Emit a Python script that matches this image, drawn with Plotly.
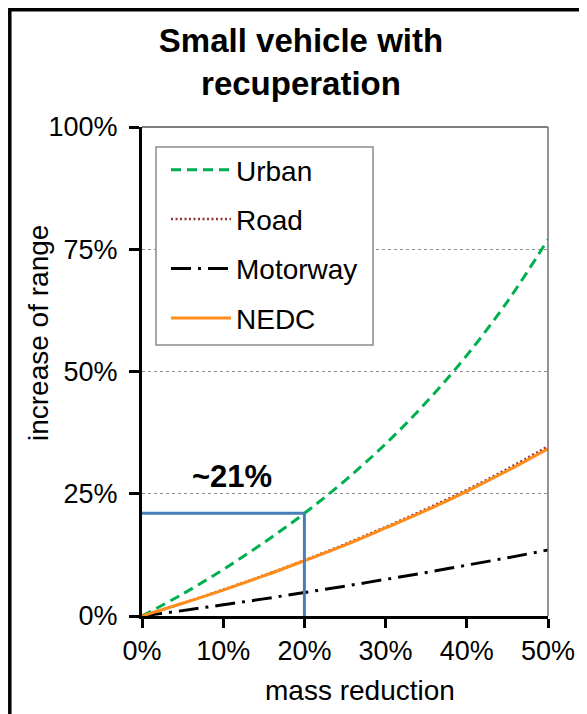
import plotly.graph_objects as go

mass_reduction = [0.0, 0.05, 0.10, 0.15, 0.20, 0.25, 0.30, 0.35, 0.40, 0.45, 0.50]
urban = [0.0, 0.045, 0.095, 0.150, 0.210, 0.277, 0.352, 0.437, 0.533, 0.643, 0.770]
road = [0.0, 0.026, 0.054, 0.083, 0.114, 0.147, 0.182, 0.219, 0.258, 0.301, 0.347]
motorway = [0.0, 0.011, 0.023, 0.035, 0.048, 0.061, 0.075, 0.089, 0.104, 0.119, 0.135]
nedc = [0.0, 0.026, 0.053, 0.082, 0.113, 0.145, 0.180, 0.216, 0.255, 0.297, 0.342]

marker_x = 0.20
marker_y = 0.21
marker_label = "~21%"

x_ticks = [0.0, 0.1, 0.2, 0.3, 0.4, 0.5]
y_ticks = [0.0, 0.25, 0.5, 0.75, 1.0]

FONT = "Liberation Sans, Arial, sans-serif"

fig = go.Figure()
fig.add_trace(go.Scatter(x=mass_reduction, y=urban, name="Urban", mode="lines",
                         line=dict(color="#00B050", width=3, dash="10px,6px"),
                         line_shape="spline", legendgroup="a"))
fig.add_trace(go.Scatter(x=mass_reduction, y=road, name="Road", mode="lines",
                         line=dict(color="#953735", width=2.5, dash="2px,2.5px"),
                         line_shape="spline", legendgroup="b"))
fig.add_trace(go.Scatter(x=mass_reduction, y=motorway, name="Motorway", mode="lines",
                         line=dict(color="black", width=3, dash="20px,7px,3px,7px"),
                         line_shape="spline", legendgroup="c"))
fig.add_trace(go.Scatter(x=mass_reduction, y=nedc, name="NEDC", mode="lines",
                         line=dict(color="#FF8C1A", width=3),
                         line_shape="spline", legendgroup="d"))

# the page body adds an 8px offset; the figure is sized to fill the rest
OFF = 8
W, H = 579, 706
L, T = 142 - OFF, 127 - OFF
R = W - (548 - OFF)
B = H - (616 - OFF)
pw, ph = W - L - R, H - T - B

def px2x(p):
    # screen px -> paper x
    return (p - OFF - L) / pw

def py2y(p):
    # screen px -> paper y
    return (H - B - (p - OFF)) / ph

shapes = [
    # outer frame (extends past the picture at right and bottom)
    dict(type="rect", xref="paper", yref="paper",
         x0=px2x(9.8), x1=px2x(660), y0=py2y(780), y1=py2y(9.8),
         line=dict(color="black", width=3.5), fillcolor="rgba(0,0,0,0)", layer="above"),
    # plot area top and right borders
    dict(type="line", xref="paper", yref="paper", x0=0, x1=1, y0=1, y1=1,
         line=dict(color="#555555", width=1.5)),
    dict(type="line", xref="paper", yref="paper", x0=1, x1=1, y0=0, y1=1,
         line=dict(color="#6f6f6f", width=1.5)),
    # legend box
    dict(type="rect", xref="paper", yref="paper",
         x0=px2x(156), x1=px2x(373), y0=py2y(345), y1=py2y(147),
         line=dict(color="#8c8c8c", width=1.5), fillcolor="white", layer="above"),
    # marker lines
    dict(type="line", xref="x", yref="y", x0=0, x1=marker_x, y0=marker_y, y1=marker_y,
         line=dict(color="#4A7EBB", width=3), layer="above"),
    dict(type="line", xref="x", yref="y", x0=marker_x, x1=marker_x, y0=marker_y, y1=-0.014,
         line=dict(color="#4A7EBB", width=3), layer="above"),
]

fig.update_layout(
    width=W, height=H,
    margin=dict(l=L, r=R, t=T, b=B, autoexpand=False),
    paper_bgcolor="white", plot_bgcolor="white",
    font=dict(family=FONT, size=27, color="black"),
    title=dict(text="<b>Small vehicle with<br>recuperation</b>",
               font=dict(size=33, family=FONT, color="black"),
               x=(301 - OFF) / W, xanchor="center",
               y=1 - (52 - OFF) / H, yanchor="middle"),
    showlegend=True,
    legend=dict(x=px2x(166), y=py2y(145), xanchor="left", yanchor="top",
                bgcolor="rgba(0,0,0,0)", borderwidth=0,
                font=dict(size=28, family=FONT), itemwidth=60,
                tracegroupgap=10, traceorder="grouped"),
    shapes=shapes,
    annotations=[
        dict(x=0.111, y=0.286, xref="x", yref="y", text="<b>" + marker_label + "</b>",
             showarrow=False, font=dict(size=31, family=FONT, color="black")),
        dict(x=px2x(360), y=py2y(690), xref="paper", yref="paper", text="mass reduction",
             showarrow=False, xanchor="center", yanchor="middle",
             font=dict(size=28, family=FONT, color="black")),
        dict(x=px2x(38), y=py2y(333), xref="paper", yref="paper", text="increase of range",
             showarrow=False, xanchor="center", yanchor="middle", textangle=-90,
             font=dict(size=28, family=FONT, color="black")),
    ],
)

fig.update_xaxes(range=[0, 0.5], tickvals=x_ticks, tickformat=".0%",
                 showline=True, linecolor="black", linewidth=3,
                 ticks="outside", ticklen=9, tickwidth=2.5, tickcolor="black",
                 showgrid=False, zeroline=False)
fig.update_yaxes(range=[0, 1], tickvals=y_ticks, tickformat=".0%",
                 showline=True, linecolor="black", linewidth=3,
                 ticks="outside", ticklen=10, tickwidth=2.5, tickcolor="black",
                 ticklabelstandoff=6,
                 showgrid=True, gridcolor="#8c8c8c", griddash="dot", gridwidth=1,
                 zeroline=False)

fig.write_html("out.html")
